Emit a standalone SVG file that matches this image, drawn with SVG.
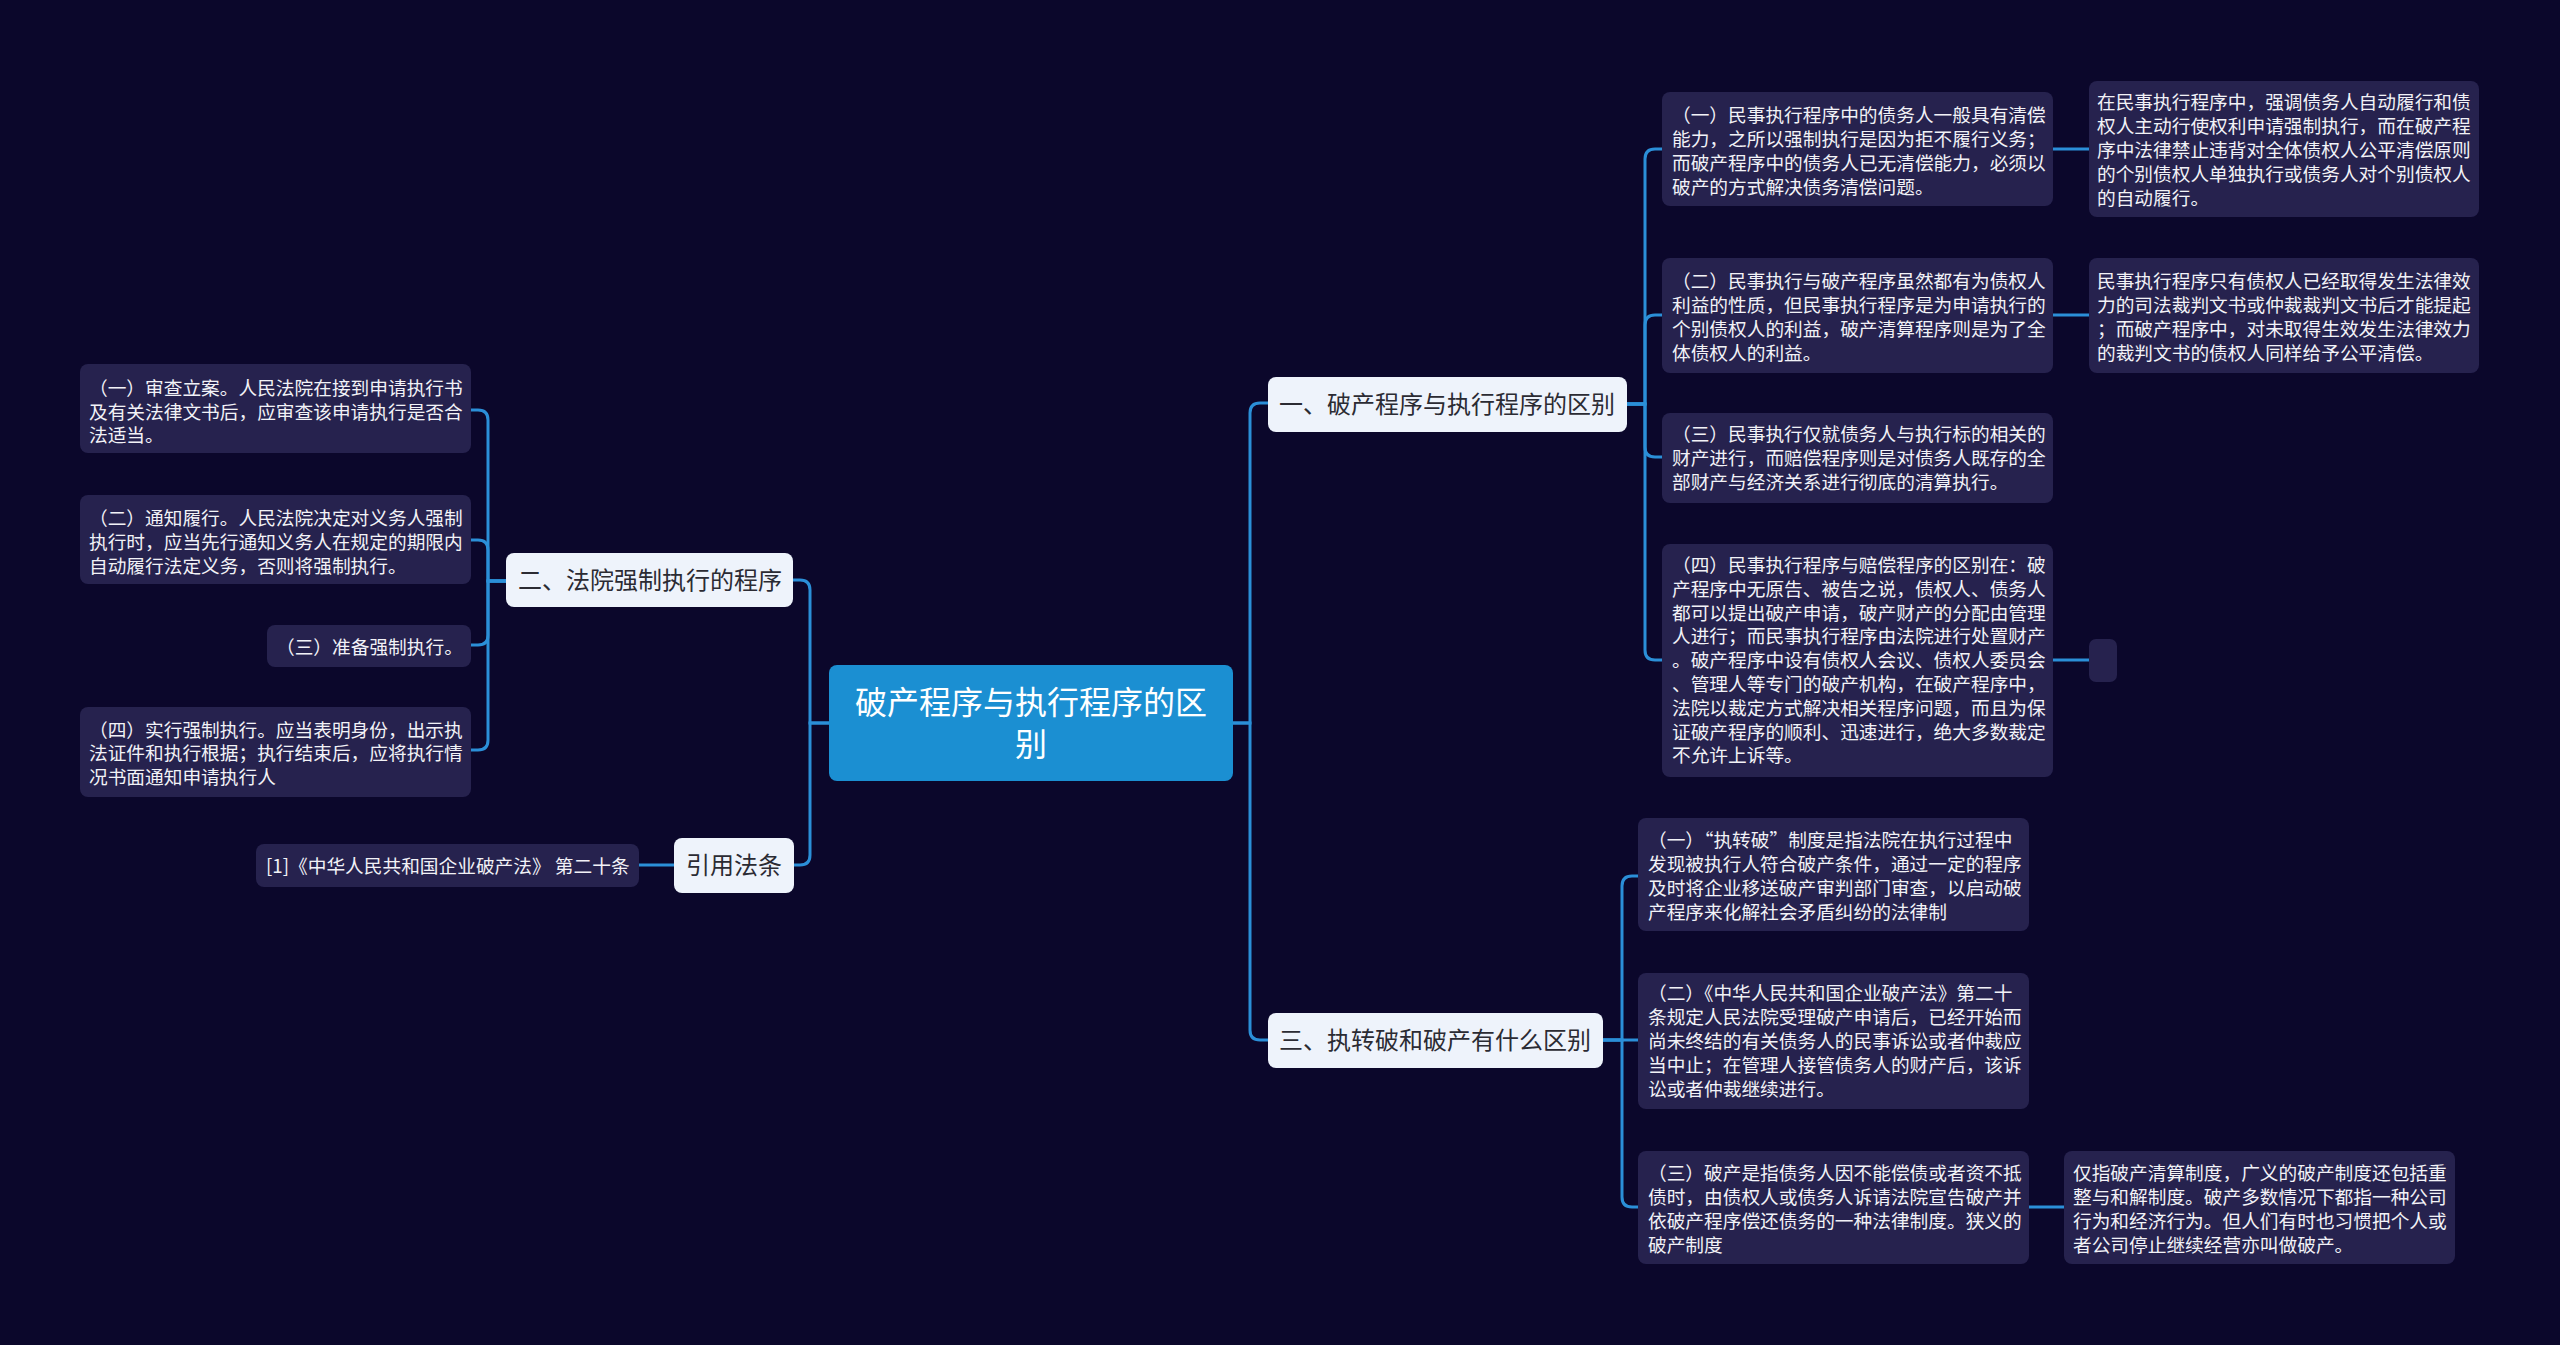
<svg xmlns="http://www.w3.org/2000/svg" width="2560" height="1345" viewBox="0 0 2560 1345">
<style>
.leaf{fill:#26224e;}
.lt{font-family:"Noto Sans CJK SC","Noto Sans",sans-serif;font-size:18.7px;fill:#f2f2f7;}
.l1{fill:#eef3fb;}
.l1t{font-family:"Noto Sans CJK SC","Noto Sans",sans-serif;font-size:24px;fill:#2b2b33;text-anchor:middle;}
.root{fill:#1b8fd2;}
.rt{font-family:"Noto Sans CJK SC","Noto Sans",sans-serif;font-size:32px;fill:#ffffff;text-anchor:middle;}
.e{fill:none;stroke:#2b8fd8;stroke-width:3;}
</style>
<rect width="2560" height="1345" fill="#0b072b"/>
<g id="connectors">
<path class="e" d="M829 723 H810 V590 Q810 580 800 580 H793"/>
<path class="e" d="M829 723 H810 V855 Q810 865 800 865 H794"/>
<path class="e" d="M506 581 H488 V420 Q488 410 478 410 H471"/>
<path class="e" d="M506 581 H488 V550 Q488 540 478 540 H471"/>
<path class="e" d="M506 581 H488 V635 Q488 645 478 645 H471"/>
<path class="e" d="M506 581 H488 V740 Q488 750 478 750 H471"/>
<path class="e" d="M674 865 H639"/>
<path class="e" d="M1233 723 H1250 V413 Q1250 403 1260 403 H1268"/>
<path class="e" d="M1233 723 H1250 V1030 Q1250 1040 1260 1040 H1268"/>
<path class="e" d="M1627 404 H1645 V159 Q1645 149 1655 149 H1662"/>
<path class="e" d="M1627 404 H1645 V325 Q1645 315 1655 315 H1662"/>
<path class="e" d="M1627 404 H1645 V447 Q1645 457 1655 457 H1662"/>
<path class="e" d="M1627 404 H1645 V650 Q1645 660 1655 660 H1662"/>
<path class="e" d="M2053 149 H2089"/>
<path class="e" d="M2053 315 H2089"/>
<path class="e" d="M2053 660 H2089"/>
<path class="e" d="M1603 1040 H1622 V886 Q1622 876 1632 876 H1638"/>
<path class="e" d="M1603 1040 H1638"/>
<path class="e" d="M1603 1040 H1622 V1197 Q1622 1207 1632 1207 H1638"/>
<path class="e" d="M2029 1207 H2064"/>
</g>
<g id="root">
<rect class="root" x="829" y="665" width="404" height="116" rx="8"/>
<text class="rt"><tspan x="1031" y="714">破产程序与执行程序的区</tspan><tspan x="1031" y="756">别</tspan></text>
</g>
<g id="n2">
<rect class="l1" x="506" y="553" width="287" height="54" rx="8"/>
<text class="l1t" x="650" y="589">二、法院强制执行的程序</text>
</g>
<g id="n2-1">
<rect class="leaf" x="80" y="364" width="391" height="89" rx="8"/>
<text class="lt"><tspan x="89" y="395">（一）审查立案。人民法院在接到申请执行书</tspan><tspan x="89" y="419">及有关法律文书后，应审查该申请执行是否合</tspan><tspan x="89" y="442">法适当。</tspan></text>
</g>
<g id="n2-2">
<rect class="leaf" x="80" y="495" width="391" height="89" rx="8"/>
<text class="lt"><tspan x="89" y="525">（二）通知履行。人民法院决定对义务人强制</tspan><tspan x="89" y="549">执行时，应当先行通知义务人在规定的期限内</tspan><tspan x="89" y="573">自动履行法定义务，否则将强制执行。</tspan></text>
</g>
<g id="n2-3">
<rect class="leaf" x="267" y="625" width="204" height="42" rx="8"/>
<text class="lt" x="276" y="654">（三）准备强制执行。</text>
</g>
<g id="n2-4">
<rect class="leaf" x="80" y="707" width="391" height="90" rx="8"/>
<text class="lt"><tspan x="89" y="737">（四）实行强制执行。应当表明身份，出示执</tspan><tspan x="89" y="760">法证件和执行根据；执行结束后，应将执行情</tspan><tspan x="89" y="784">况书面通知申请执行人</tspan></text>
</g>
<g id="n4">
<rect class="l1" x="674" y="838" width="120" height="55" rx="8"/>
<text class="l1t" x="734" y="874">引用法条</text>
</g>
<g id="n4-1">
<rect class="leaf" x="256" y="844" width="383" height="43" rx="8"/>
<text class="lt" x="266" y="873">[1]《中华人民共和国企业破产法》 第二十条</text>
</g>
<g id="n1">
<rect class="l1" x="1268" y="377" width="359" height="55" rx="8"/>
<text class="l1t" x="1447" y="413">一、破产程序与执行程序的区别</text>
</g>
<g id="n1-1">
<rect class="leaf" x="1662" y="92" width="391" height="114" rx="8"/>
<text class="lt"><tspan x="1672" y="122">（一）民事执行程序中的债务人一般具有清偿</tspan><tspan x="1672" y="146">能力，之所以强制执行是因为拒不履行义务；</tspan><tspan x="1672" y="170">而破产程序中的债务人已无清偿能力，必须以</tspan><tspan x="1672" y="194">破产的方式解决债务清偿问题。</tspan></text>
</g>
<g id="n1-1-1">
<rect class="leaf" x="2089" y="81" width="390" height="136" rx="8"/>
<text class="lt"><tspan x="2097" y="109">在民事执行程序中，强调债务人自动履行和债</tspan><tspan x="2097" y="133">权人主动行使权利申请强制执行，而在破产程</tspan><tspan x="2097" y="157">序中法律禁止违背对全体债权人公平清偿原则</tspan><tspan x="2097" y="181">的个别债权人单独执行或债务人对个别债权人</tspan><tspan x="2097" y="205">的自动履行。</tspan></text>
</g>
<g id="n1-2">
<rect class="leaf" x="1662" y="258" width="391" height="115" rx="8"/>
<text class="lt"><tspan x="1672" y="288">（二）民事执行与破产程序虽然都有为债权人</tspan><tspan x="1672" y="312">利益的性质，但民事执行程序是为申请执行的</tspan><tspan x="1672" y="336">个别债权人的利益，破产清算程序则是为了全</tspan><tspan x="1672" y="360">体债权人的利益。</tspan></text>
</g>
<g id="n1-2-1">
<rect class="leaf" x="2089" y="258" width="390" height="115" rx="8"/>
<text class="lt"><tspan x="2097" y="288">民事执行程序只有债权人已经取得发生法律效</tspan><tspan x="2097" y="312">力的司法裁判文书或仲裁裁判文书后才能提起</tspan><tspan x="2097" y="336">；而破产程序中，对未取得生效发生法律效力</tspan><tspan x="2097" y="360">的裁判文书的债权人同样给予公平清偿。</tspan></text>
</g>
<g id="n1-3">
<rect class="leaf" x="1662" y="413" width="391" height="90" rx="8"/>
<text class="lt"><tspan x="1672" y="441">（三）民事执行仅就债务人与执行标的相关的</tspan><tspan x="1672" y="465">财产进行，而赔偿程序则是对债务人既存的全</tspan><tspan x="1672" y="489">部财产与经济关系进行彻底的清算执行。</tspan></text>
</g>
<g id="n1-4">
<rect class="leaf" x="1662" y="544" width="391" height="233" rx="8"/>
<text class="lt"><tspan x="1672" y="572">（四）民事执行程序与赔偿程序的区别在：破</tspan><tspan x="1672" y="596">产程序中无原告、被告之说，债权人、债务人</tspan><tspan x="1672" y="620">都可以提出破产申请，破产财产的分配由管理</tspan><tspan x="1672" y="643">人进行；而民事执行程序由法院进行处置财产</tspan><tspan x="1672" y="667">。破产程序中设有债权人会议、债权人委员会</tspan><tspan x="1672" y="691">、管理人等专门的破产机构，在破产程序中，</tspan><tspan x="1672" y="715">法院以裁定方式解决相关程序问题，而且为保</tspan><tspan x="1672" y="739">证破产程序的顺利、迅速进行，绝大多数裁定</tspan><tspan x="1672" y="762">不允许上诉等。</tspan></text>
</g>
<g id="n1-4-1">
<rect class="leaf" x="2089" y="639" width="28" height="43" rx="7"/>
</g>
<g id="n3">
<rect class="l1" x="1268" y="1013" width="335" height="55" rx="8"/>
<text class="l1t" x="1435" y="1049">三、执转破和破产有什么区别</text>
</g>
<g id="n3-1">
<rect class="leaf" x="1638" y="818" width="391" height="113" rx="8"/>
<text class="lt"><tspan x="1648" y="847">（一）“执转破”制度是指法院在执行过程中</tspan><tspan x="1648" y="871">发现被执行人符合破产条件，通过一定的程序</tspan><tspan x="1648" y="895">及时将企业移送破产审判部门审查，以启动破</tspan><tspan x="1648" y="919">产程序来化解社会矛盾纠纷的法律制</tspan></text>
</g>
<g id="n3-2">
<rect class="leaf" x="1638" y="973" width="391" height="136" rx="8"/>
<text class="lt"><tspan x="1648" y="1000">（二）《中华人民共和国企业破产法》第二十</tspan><tspan x="1648" y="1024">条规定人民法院受理破产申请后，已经开始而</tspan><tspan x="1648" y="1048">尚未终结的有关债务人的民事诉讼或者仲裁应</tspan><tspan x="1648" y="1072">当中止；在管理人接管债务人的财产后，该诉</tspan><tspan x="1648" y="1096">讼或者仲裁继续进行。</tspan></text>
</g>
<g id="n3-3">
<rect class="leaf" x="1638" y="1151" width="391" height="113" rx="8"/>
<text class="lt"><tspan x="1648" y="1180">（三）破产是指债务人因不能偿债或者资不抵</tspan><tspan x="1648" y="1204">债时，由债权人或债务人诉请法院宣告破产并</tspan><tspan x="1648" y="1228">依破产程序偿还债务的一种法律制度。狭义的</tspan><tspan x="1648" y="1252">破产制度</tspan></text>
</g>
<g id="n3-3-1">
<rect class="leaf" x="2064" y="1151" width="391" height="113" rx="8"/>
<text class="lt"><tspan x="2073" y="1180">仅指破产清算制度，广义的破产制度还包括重</tspan><tspan x="2073" y="1204">整与和解制度。破产多数情况下都指一种公司</tspan><tspan x="2073" y="1228">行为和经济行为。但人们有时也习惯把个人或</tspan><tspan x="2073" y="1252">者公司停止继续经营亦叫做破产。</tspan></text>
</g>
</svg>
